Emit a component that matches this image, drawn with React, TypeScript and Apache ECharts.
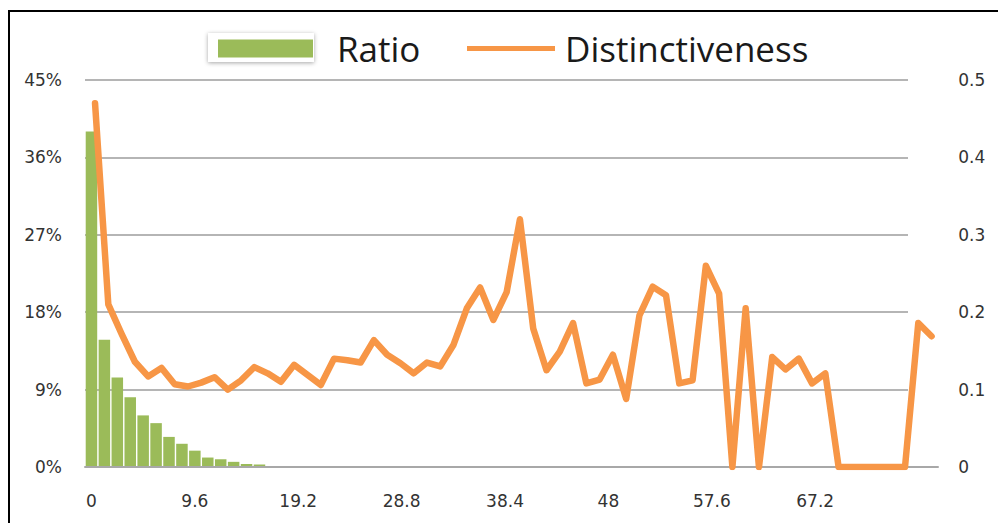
import React, { useEffect, useRef } from "react";
import * as echarts from "echarts";

// X categories (bin starts) for the Ratio bars
const categories = [
  "0", "1.2", "2.4", "3.6", "4.8", "6", "7.2", "8.4", "9.6", "10.8",
  "12", "13.2", "14.4", "15.6", "16.8", "18", "19.2", "20.4", "21.6", "22.8",
  "24", "25.2", "26.4", "27.6", "28.8", "30", "31.2", "32.4", "33.6", "34.8",
  "36", "37.2", "38.4", "39.6", "40.8", "42", "43.2", "44.4", "45.6", "46.8",
  "48", "49.2", "50.4", "51.6", "52.8", "54", "55.2", "56.4", "57.6", "58.8",
  "60", "61.2", "62.4", "63.6", "64.8", "66", "67.2", "68.4", "69.6", "70.8",
  "72", "73.2", "74.4", "75.6", "76.8", "78",
];

// Tick labels shown on the x axis
const tickLabels = ["0", "9.6", "19.2", "28.8", "38.4", "48", "57.6", "67.2"];

// Ratio (%) per bin
const ratio = [
  39.0, 14.8, 10.4, 8.1, 6.0, 5.1, 3.5, 2.7, 1.9, 1.1,
  0.9, 0.6, 0.35, 0.3, 0, 0, 0, 0, 0, 0,
  0, 0, 0, 0, 0, 0, 0, 0, 0, 0,
  0, 0, 0, 0, 0, 0, 0, 0, 0, 0,
  0, 0, 0, 0, 0, 0, 0, 0, 0, 0,
  0, 0, 0, 0, 0, 0, 0, 0, 0, 0,
  0, 0, 0, 0, 0, 0,
];

// Distinctiveness values (secondary axis)
const distinctiveness = [
  0.47, 0.21, 0.172, 0.136, 0.117, 0.128, 0.107, 0.104, 0.109, 0.116,
  0.1, 0.112, 0.129, 0.121, 0.11, 0.132, 0.119, 0.106, 0.14, 0.138,
  0.135, 0.164, 0.145, 0.134, 0.121, 0.135, 0.13, 0.158, 0.205, 0.232,
  0.19, 0.226, 0.32, 0.179, 0.125, 0.149, 0.186, 0.108, 0.113, 0.145,
  0.088, 0.196, 0.233, 0.222, 0.108, 0.112, 0.26, 0.224, 0, 0.205,
  0, 0.142, 0.126, 0.14, 0.108, 0.121, 0, 0, 0, 0,
  0, 0, 0.186, 0.169,
];

const leftMax = 45;
const leftInterval = 9;
const rightMax = 0.5;
const rightInterval = 0.1;

const GREEN = "#9BBB59";
const ORANGE = "#F79646";
const LABEL_FONT = "'DejaVu Sans', Verdana, sans-serif";
const LEGEND_FONT = "'Open Sans', sans-serif";

export default function App() {
  const ref = useRef<HTMLDivElement>(null);

  useEffect(() => {
    if (!ref.current) return;
    const chart = echarts.init(ref.current, undefined, { renderer: "svg" });
    const lineCats = distinctiveness.map((_, i) => String(i));

    chart.setOption({
      animation: false,
      backgroundColor: "#ffffff",
      graphic: [
        {
          type: "rect",
          z: 1,
          shape: { x: 208, y: 33, width: 106, height: 29 },
          style: {
            fill: "#ffffff",
            shadowBlur: 4,
            shadowColor: "rgba(0,0,0,0.35)",
            shadowOffsetY: 1,
          },
        },
      ],
      legend: [
        {
          data: [{ name: "Ratio", icon: "rect" }],
          left: 213,
          top: 26,
          itemWidth: 95,
          itemHeight: 18,
          textStyle: {
            fontFamily: LEGEND_FONT,
            fontSize: 35,
            color: "#1a1a1a",
            padding: [0, 0, 0, 19],
          },
        },
        {
          data: [{ name: "Distinctiveness", icon: "rect" }],
          left: 462,
          top: 26,
          itemWidth: 88,
          itemHeight: 5,
          itemStyle: { color: ORANGE },
          textStyle: {
            fontFamily: LEGEND_FONT,
            fontSize: 35,
            color: "#1a1a1a",
            padding: [0, 0, 0, 5],
          },
        },
      ],
      grid: [
        { left: 85, right: 60, top: 80, bottom: 56, containLabel: false },
        { left: 88.4, right: 59.8, top: 80, bottom: 56, containLabel: false },
        { left: 85, right: 90, top: 80, bottom: 56, containLabel: false },
      ],
      xAxis: [
        {
          type: "category",
          gridIndex: 0,
          data: categories,
          boundaryGap: true,
          axisLine: { show: true, lineStyle: { color: "#a8a8a8", width: 2 } },
          axisTick: { show: false },
          axisLabel: {
            interval: (_i: number, v: string) => tickLabels.includes(v),
            margin: 25,
            fontFamily: LABEL_FONT,
            fontSize: 17,
            color: "#333333",
          },
          splitLine: { show: false },
          z: 3,
        },
        {
          type: "category",
          gridIndex: 1,
          data: lineCats,
          boundaryGap: true,
          show: false,
        },
        {
          type: "value",
          gridIndex: 2,
          min: 0,
          max: 1,
          show: false,
        },
      ],
      yAxis: [
        {
          type: "value",
          gridIndex: 0,
          min: 0,
          max: leftMax,
          interval: leftInterval,
          axisLine: { show: false },
          axisTick: { show: false },
          axisLabel: {
            formatter: "{value}%",
            margin: 23,
            fontFamily: LABEL_FONT,
            fontSize: 17,
            color: "#333333",
          },
          splitLine: { show: false },
        },
        {
          type: "value",
          gridIndex: 1,
          position: "right",
          min: 0,
          max: rightMax,
          interval: rightInterval,
          axisLine: { show: false },
          axisTick: { show: false },
          axisLabel: {
            margin: 20,
            fontFamily: LABEL_FONT,
            fontSize: 17,
            color: "#333333",
          },
          splitLine: { show: false },
        },
        {
          type: "value",
          gridIndex: 2,
          min: 0,
          max: leftMax,
          interval: leftInterval,
          axisLine: { show: false },
          axisTick: { show: false },
          axisLabel: { show: false },
          splitLine: { show: true, lineStyle: { color: "#9c9c9c", width: 1.5 } },
        },
      ],
      series: [
        {
          name: "Ratio",
          type: "bar",
          xAxisIndex: 0,
          yAxisIndex: 0,
          data: ratio,
          barCategoryGap: "11%",
          itemStyle: { color: GREEN },
          z: 2,
        },
        {
          name: "Distinctiveness",
          type: "line",
          xAxisIndex: 1,
          yAxisIndex: 1,
          data: distinctiveness,
          symbol: "none",
          lineStyle: { color: ORANGE, width: 6.5, join: "round", cap: "round" },
          itemStyle: { color: ORANGE },
          z: 3,
        },
      ],
    });

    return () => chart.dispose();
  }, []);

  return (
    <div
      style={{
        position: "absolute",
        left: 0,
        top: 0,
        width: 998,
        height: 523,
        overflow: "hidden",
      }}
    >
      <div ref={ref} style={{ position: "absolute", left: 0, top: 0, width: 998, height: 523 }} />
      <div
        style={{
          position: "absolute",
          left: 8,
          top: 10,
          width: 1000,
          height: 520,
          borderLeft: "2px solid #000",
          borderTop: "2px solid #000",
          boxSizing: "border-box",
          pointerEvents: "none",
        }}
      />
    </div>
  );
}
